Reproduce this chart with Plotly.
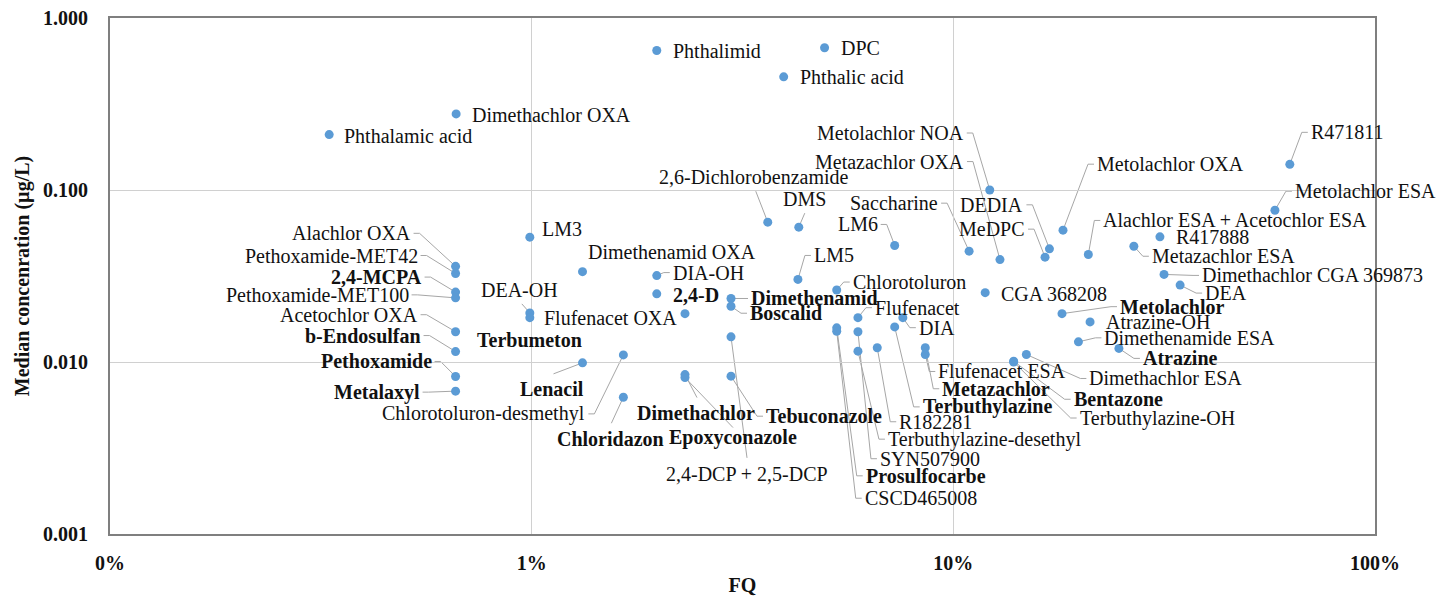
import math
import plotly.graph_objects as go

# Compound names, detection frequency FQ (%) and median concentration (µg/L)
names = [
    "Phthalamic acid", "Dimethachlor OXA", "Phthalimid", "DPC", "Phthalic acid",
    "Metolachlor NOA", "Metazachlor OXA", "2,6-Dichlorobenzamide", "DMS", "Saccharine",
    "LM6", "DEDIA", "MeDPC", "Metolachlor OXA", "R471811",
    "Metolachlor ESA", "Alachlor ESA + Acetochlor ESA", "R417888", "Metazachlor ESA",
    "Dimethachlor CGA 369873", "DEA",
    "Alachlor OXA", "Pethoxamide-MET42", "2,4-MCPA", "Pethoxamide-MET100",
    "Acetochlor OXA", "b-Endosulfan", "Pethoxamide", "Metalaxyl",
    "LM3", "Dimethenamid OXA", "DIA-OH", "DEA-OH", "2,4-D", "Flufenacet OXA",
    "Dimethenamid", "Boscalid", "LM5", "Chlorotoluron", "Flufenacet", "DIA",
    "CGA 368208", "Metolachlor", "Atrazine-OH", "Dimethenamide ESA", "Atrazine",
    "Terbumeton", "Lenacil", "Chlorotoluron-desmethyl", "Chloridazon",
    "Dimethachlor", "Epoxyconazole", "Tebuconazole", "2,4-DCP + 2,5-DCP",
    "R182281", "Terbuthylazine-desethyl", "SYN507900", "Prosulfocarbe", "CSCD465008",
    "Flufenacet ESA", "Metazachlor", "Terbuthylazine",
    "Dimethachlor ESA", "Bentazone", "Terbuthylazine-OH",
]

fq = [
    0.331, 0.662, 1.98, 4.95, 3.96,
    12.2, 12.9, 3.63, 4.30, 10.9,
    7.26, 16.9, 16.5, 18.2, 62.8,
    57.9, 20.9, 30.9, 26.8,
    31.6, 34.5,
    0.66, 0.66, 0.66, 0.66,
    0.66, 0.66, 0.66, 0.66,
    0.99, 1.32, 1.98, 0.99, 1.98, 2.31,
    2.97, 2.97, 4.28, 5.29, 5.94, 7.59,
    11.9, 18.1, 21.1, 19.8, 24.7,
    0.99, 1.32, 1.65, 1.65,
    2.31, 2.31, 2.97, 2.97,
    6.60, 5.94, 5.94, 5.29, 5.29,
    8.58, 8.58, 7.26,
    14.9, 13.9, 13.9,
]

conc = [
    0.210, 0.277, 0.647, 0.671, 0.455,
    0.100, 0.0394, 0.0650, 0.0608, 0.0441,
    0.0476, 0.0455, 0.0407, 0.0584, 0.141,
    0.0763, 0.0422, 0.0534, 0.0471,
    0.0323, 0.0280,
    0.0360, 0.0327, 0.0255, 0.0236,
    0.0150, 0.0115, 0.00824, 0.00677,
    0.0532, 0.0335, 0.0318, 0.0193, 0.0249, 0.0191,
    0.0234, 0.0211, 0.0302, 0.0262, 0.0181, 0.0181,
    0.0253, 0.0191, 0.0171, 0.0131, 0.0120,
    0.0181, 0.00989, 0.0110, 0.00624,
    0.00845, 0.00812, 0.00827, 0.0140,
    0.0121, 0.01156, 0.0150, 0.0158, 0.0151,
    0.01106, 0.0121, 0.0160,
    0.01106, 0.0101, 0.0100,
]

# Active substances are printed in bold
bold_names = {
    "2,4-MCPA", "b-Endosulfan", "Pethoxamide", "Metalaxyl", "Terbumeton", "Lenacil",
    "Chloridazon", "Dimethachlor", "Epoxyconazole", "Tebuconazole", "2,4-D",
    "Dimethenamid", "Boscalid", "Metolachlor", "Atrazine", "Metazachlor",
    "Terbuthylazine", "Bentazone", "Prosulfocarbe",
}

x_tickvals = [0.1, 1, 10, 100]
x_ticktext = ["0%", "1%", "10%", "100%"]
y_tickvals = [0.001, 0.01, 0.1, 1]
y_ticktext = ["0.001", "0.010", "0.100", "1.000"]

# Label placement: pixel offset (dx right, dy down) from the marker, text anchor,
# and leader style: None, "stub" (elbow + short horizontal tick) or a custom end point
label_layout = {
    "Phthalamic acid": (14, 1, "l", None),
    "Dimethachlor OXA": (15, 1, "l", None),
    "Phthalimid": (15, 0, "l", None),
    "DPC": (15, 0, "l", None),
    "Phthalic acid": (15, 0, "l", None),
    "Metolachlor NOA": (-25, -57, "r", "stub"),
    "Metazachlor OXA": (-35, -98, "r", "stub"),
    "2,6-Dichlorobenzamide": (-14, -45, "c", (-12, -31)),
    "DMS": (6, -28, "c", (6, -14)),
    "Saccharine": (-30, -48, "r", "stub"),
    "LM6": (-16, -21, "r", "stub"),
    "DEDIA": (-25, -44, "r", "stub"),
    "MeDPC": (-19, -28, "r", "stub"),
    "Metolachlor OXA": (33, -66, "l", "stub"),
    "R471811": (20, -32, "l", "stub"),
    "Metolachlor ESA": (19, -19, "l", "stub"),
    "Alachlor ESA + Acetochlor ESA": (14, -34, "l", "stub"),
    "R417888": (15, 0, "l", None),
    "Metazachlor ESA": (17, 10, "l", "stub"),
    "Dimethachlor CGA 369873": (37, 1, "l", "stub"),
    "DEA": (24, 8, "l", "stub"),
    "Alachlor OXA": (-44, -33, "r", "stub"),
    "Pethoxamide-MET42": (-37, -18, "r", "stub"),
    "2,4-MCPA": (-33, -15, "r", "stub"),
    "Pethoxamide-MET100": (-46, -3, "r", "stub"),
    "Acetochlor OXA": (-37, -17, "r", "stub"),
    "b-Endosulfan": (-34, -16, "r", "stub"),
    "Pethoxamide": (-23, -15, "r", "stub"),
    "Metalaxyl": (-35, 1, "r", "stub"),
    "LM3": (11, -8, "l", None),
    "Dimethenamid OXA": (4, -20, "l", None),
    "DIA-OH": (15, -3, "l", "stub"),
    "DEA-OH": (-10, -23, "c", (-8, -9)),
    "2,4-D": (15, 1, "l", None),
    "Flufenacet OXA": (-7, 4, "r", None),
    "Dimethenamid": (19, 0, "l", "stub"),
    "Boscalid": (18, 7, "l", "stub"),
    "LM5": (15, -24, "l", "stub"),
    "Chlorotoluron": (15, -8, "l", "stub"),
    "Flufenacet": (16, -10, "l", "stub"),
    "DIA": (15, 10, "l", "stub"),
    "CGA 368208": (15, 1, "l", None),
    "Metolachlor": (57, -7, "l", "stub"),
    "Atrazine-OH": (15, 0, "l", None),
    "Dimethenamide ESA": (25, -4, "l", "stub"),
    "Atrazine": (23, 10, "l", "stub"),
    "Terbumeton": (0, 22, "c", None),
    "Lenacil": (-31, 26, "c", (-29, 11)),
    "Chlorotoluron-desmethyl": (-37, 59, "r", "stub"),
    "Chloridazon": (-13, 42, "c", (-12, 26)),
    "Dimethachlor": (11, 38, "c", (12, 23)),
    "Epoxyconazole": (48, 60, "c", (48, 50)),
    "Tebuconazole": (34, 40, "l", "stub"),
    "2,4-DCP + 2,5-DCP": (16, 137, "c", (16, 121)),
    "R182281": (21, 74, "l", "stub"),
    "Terbuthylazine-desethyl": (29, 88, "l", "stub"),
    "SYN507900": (21, 127, "l", "stub"),
    "Prosulfocarbe": (28, 148, "l", "stub"),
    "CSCD465008": (27, 167, "l", "stub"),
    "Flufenacet ESA": (12, 17, "l", "stub"),
    "Metazachlor": (16, 41, "l", "stub"),
    "Terbuthylazine": (27, 80, "l", "stub"),
    "Dimethachlor ESA": (62, 24, "l", "stub"),
    "Bentazone": (59, 38, "l", "stub"),
    "Terbuthylazine-OH": (65, 56, "l", "stub"),
}

FONT = "Liberation Serif"
LABEL_SIZE = 20
TEXT_COLOR = "#111111"
LEADER_COLOR = "#a6a6a6"
ANCHOR = {"l": "left", "r": "right", "c": "center"}

fig = go.Figure()

fig.add_trace(go.Scatter(
    x=fq, y=conc, mode="markers", text=names,
    marker=dict(color="#5b9bd5", size=9, line=dict(width=0)),
    hovertemplate="%{text}<br>FQ %{x}%<br>%{y} µg/L<extra></extra>",
    showlegend=False,
))

annotations = []
shapes = []
for name, xv, yv in zip(names, fq, conc):
    dx, dy, anc, leader = label_layout[name]
    txt = f"<b>{name}</b>" if name in bold_names else name
    annotations.append(dict(
        x=math.log10(xv), y=math.log10(yv), xref="x", yref="y",
        text=txt, showarrow=False, xanchor=ANCHOR[anc], yanchor="middle",
        xshift=dx, yshift=-dy, borderpad=0,
        font=dict(family=FONT, size=LABEL_SIZE, color=TEXT_COLOR),
    ))
    if leader is None:
        continue
    if leader == "stub":
        if anc == "l":
            pts = [(0, 0), (dx - 8, dy), (dx - 2, dy)]
        else:
            pts = [(0, 0), (dx + 8, dy), (dx + 2, dy)]
    else:
        pts = [(0, 0), leader]
    # pixel-sized path anchored on the marker; y grows upwards in pixel mode
    path = "M " + " L ".join(f"{px} {-py}" for px, py in pts)
    shapes.append(dict(
        type="path", xref="x", yref="y", xsizemode="pixel", ysizemode="pixel",
        xanchor=xv, yanchor=yv, path=path, layer="below",
        line=dict(color=LEADER_COLOR, width=1),
    ))

axis_common = dict(
    type="log", showline=True, mirror=True, linecolor="#7f7f7f", linewidth=2,
    showgrid=True, gridcolor="#d0d0d0", gridwidth=1, zeroline=False,
    ticks="", automargin=False,
    tickfont=dict(family=FONT, size=20, color=TEXT_COLOR),
)

fig.update_layout(
    width=1452, height=596,
    margin=dict(l=110, r=77, t=18, b=62),
    paper_bgcolor="white", plot_bgcolor="white",
    font=dict(family=FONT),
    annotations=annotations, shapes=shapes,
    xaxis=dict(
        axis_common, range=[-1, 2], tickvals=x_tickvals,
        ticktext=[f"<b>{t}</b>" for t in x_ticktext], ticklabelstandoff=10,
        title=dict(text="<b>FQ</b>", font=dict(family=FONT, size=20, color=TEXT_COLOR),
                   standoff=8),
    ),
    yaxis=dict(
        axis_common, range=[-3, 0], tickvals=y_tickvals,
        ticktext=[f"<b>{t}</b>" for t in y_ticktext], ticklabelstandoff=16,
        title=dict(text="<b>Median concenration (µg/L)</b>",
                   font=dict(family=FONT, size=20, color=TEXT_COLOR), standoff=8),
    ),
)

fig.write_html("out.html")
